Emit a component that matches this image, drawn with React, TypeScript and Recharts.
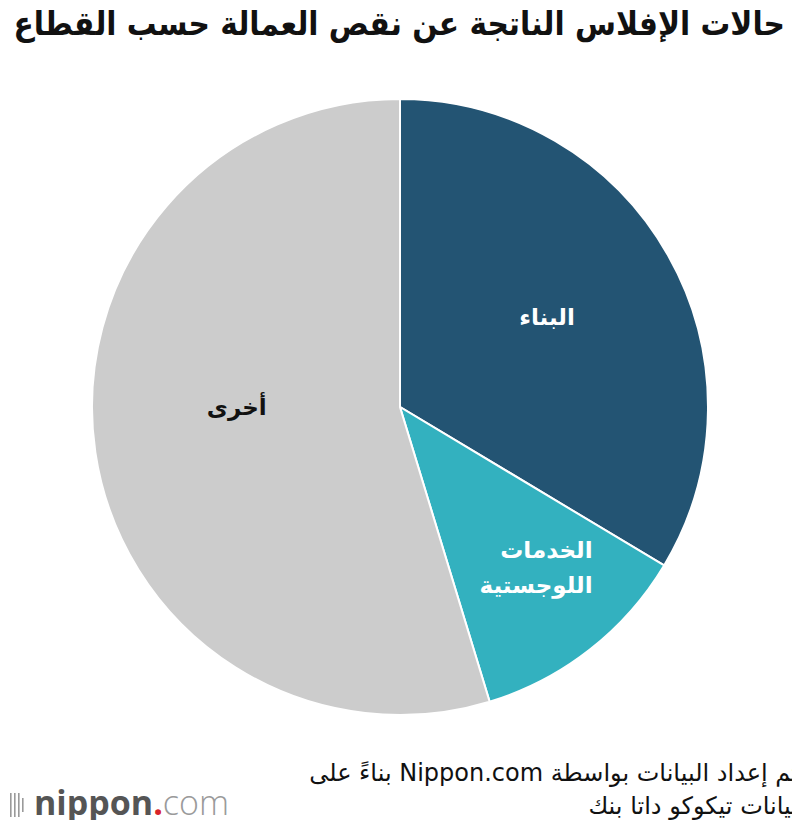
import React from "react";
import { PieChart, Pie, Cell } from "recharts";

const sectors = ["البناء", "الخدمات اللوجستية", "أخرى"];
const shares = [33.6, 11.7, 54.7];
const colors = ["#235473", "#33b1bf", "#cccccc"];
const labelLines = [["البناء"], ["الخدمات", "اللوجستية"], ["أخرى"]];

const data = sectors.map((name, i) => ({ name, value: shares[i] }));

// label placement: share of radius, angle nudge (deg), alignment
const labelRadius = [0.56, 0.68, 0.53];
const labelTurn = [2, 2, -8.4];
const labelAlign: ("middle" | "end")[] = ["middle", "end", "middle"];
const labelColor = ["#ffffff", "#ffffff", "#111111"];

const RADIAN = Math.PI / 180;
const arabicFont = "'DejaVu Sans', 'Noto Sans', sans-serif";

const renderLabel = (props: any) => {
  const { cx, cy, midAngle, outerRadius, index } = props;
  const r = outerRadius * labelRadius[index];
  const a = midAngle + labelTurn[index];
  let x = cx + r * Math.cos(-a * RADIAN);
  const y = cy + r * Math.sin(-a * RADIAN);
  const lines = labelLines[index];
  const lh = 35;
  const y0 = y - ((lines.length - 1) * lh) / 2;
  if (labelAlign[index] === "end") x += 58;
  return (
    <text
      x={x}
      y={y0}
      textAnchor={labelAlign[index]}
      fill={labelColor[index]}
      fontFamily={arabicFont}
      fontWeight="bold"
      fontSize={23}
    >
      {lines.map((l, i) => (
        <tspan key={i} x={x} y={y0 + i * lh} dominantBaseline="central">
          {l}
        </tspan>
      ))}
    </text>
  );
};

export default function App() {
  return (
    <div style={{ position: "relative", width: 800, height: 828, background: "#fff", margin: -8 }}>
      <PieChart width={800} height={828} margin={{ top: 0, right: 0, bottom: 0, left: 0 }}>
        <Pie
          data={data}
          dataKey="value"
          nameKey="name"
          cx={400}
          cy={407}
          outerRadius={308}
          startAngle={90}
          endAngle={-270}
          stroke="#ffffff"
          strokeWidth={2}
          label={renderLabel}
          labelLine={false}
          isAnimationActive={false}
        >
          {data.map((d, i) => (
            <Cell key={d.name} fill={colors[i]} />
          ))}
        </Pie>
      </PieChart>
      <div
        dir="rtl"
        style={{
          position: "absolute",
          top: 3,
          right: 15,
          fontFamily: "'DejaVu Sans Condensed', 'DejaVu Sans', sans-serif",
          fontWeight: "bold",
          fontSize: 33,
          lineHeight: "42px",
          color: "#111",
          whiteSpace: "nowrap",
        }}
      >
        حالات الإفلاس الناتجة عن نقص العمالة حسب القطاع
      </div>
      <div
        dir="rtl"
        style={{
          position: "absolute",
          top: 757,
          right: 2,
          fontFamily: arabicFont,
          fontSize: 24,
          lineHeight: "33px",
          color: "#111",
          textAlign: "right",
          whiteSpace: "nowrap",
        }}
      >
        <div>تم إعداد البيانات بواسطة Nippon.com بناءً على</div>
        <div>بيانات تيكوكو داتا بنك</div>
      </div>
      <svg width={240} height={48} style={{ position: "absolute", left: 0, top: 780 }}>
        <g fill="#9a9a9a">
          {[0, 4, 8, 12, 16, 20].map((dx, i) => (
            <rect key={i} x={2 + dx} y={i === 0 || i === 5 ? 18 : 13} width={1.6} height={i === 0 || i === 5 ? 14 : 24} />
          ))}
        </g>
        <text x={34} y={35} fontFamily="'Open Sans', 'DejaVu Sans', sans-serif" fontSize={34}>
          <tspan fill="#555" fontWeight="bold">nippon</tspan>
          <tspan fill="#d8232a" fontWeight="bold">.</tspan>
          <tspan fill="#9a9a9a" fontWeight="300">com</tspan>
        </text>
      </svg>
    </div>
  );
}
